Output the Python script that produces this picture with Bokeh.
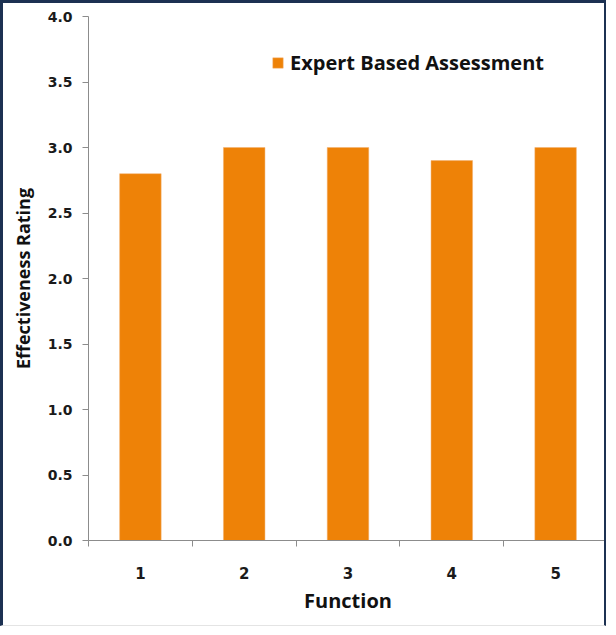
from bokeh.plotting import figure
from bokeh.models import FixedTicker, Legend, LegendItem, ColumnDataSource
from bokeh.embed import file_html
from bokeh.resources import INLINE

functions = [1, 2, 3, 4, 5]
ratings = [2.8, 3.0, 3.0, 2.9, 3.0]
y_ticks = [0.0, 0.5, 1.0, 1.5, 2.0, 2.5, 3.0, 3.5, 4.0]
series_name = "Expert Based Assessment"

src = ColumnDataSource(dict(x=functions, top=ratings))

p = figure(width=606, height=626, output_backend="svg", toolbar_location=None,
           x_range=(0.5, 5.5), y_range=(0, 4.0),
           min_border_left=85, min_border_right=2, min_border_top=13, min_border_bottom=89)
p.styles = {"border-left": "3px solid #1c3152", "border-top": "3px solid #1c3152",
            "border-right": "2px solid #1c3152", "border-bottom": "1px solid #e4e4e4"}
p.grid.visible = False
p.outline_line_color = None
p.background_fill_color = "white"

r = p.vbar(x="x", top="top", width=0.4, source=src, fill_color="#ee8207", line_color="#f2b070", line_width=0.5)

# y axis
ya = p.yaxis[0]
ya.ticker = FixedTicker(ticks=y_ticks)
ya.major_label_overrides = {t: f"{t:.1f}" for t in y_ticks}
ya.major_label_text_font = "DejaVu Sans"
ya.major_label_text_font_style = "bold"
ya.major_label_text_font_size = "14px"
ya.major_label_text_color = "#1a1a1a"
ya.major_tick_out = 6
ya.major_tick_in = 0
ya.minor_tick_out = 0
ya.minor_tick_in = 0
ya.axis_line_color = "#8c8c8c"
ya.major_tick_line_color = "#8c8c8c"
ya.major_label_standoff = 10
ya.axis_label = "Effectiveness Rating"
ya.axis_label_text_font = "Open Sans"
ya.axis_label_text_font_style = "bold"
ya.axis_label_text_font_size = "18px"
ya.axis_label_text_color = "#111111"
ya.axis_label_standoff = 10

# x axis
xa = p.xaxis[0]
xa.ticker = FixedTicker(ticks=functions, minor_ticks=[f + 0.5 for f in [0] + functions])
xa.major_tick_out = 0
xa.major_tick_in = 0
xa.minor_tick_out = 6
xa.minor_tick_in = 0
xa.axis_line_color = "#8c8c8c"
xa.minor_tick_line_color = "#8c8c8c"
xa.major_label_text_font = "DejaVu Sans"
xa.major_label_text_font_style = "bold"
xa.major_label_text_font_size = "15px"
xa.major_label_text_color = "#1a1a1a"
xa.major_label_standoff = 20
xa.axis_label = "Function"
xa.axis_label_text_font = "Open Sans"
xa.axis_label_text_font_style = "bold"
xa.axis_label_text_font_size = "20px"
xa.axis_label_text_color = "#111111"
xa.axis_label_standoff = 5

legend = Legend(items=[LegendItem(label=series_name, renderers=[r])],
                location=(183, 464), padding=0, margin=0, spacing=0,
                glyph_width=13, glyph_height=13, label_standoff=6,
                border_line_color=None, background_fill_alpha=0,
                label_text_font="Open Sans", label_text_font_style="bold",
                label_text_font_size="20px", label_text_color="#111111")
p.add_layout(legend, "center")

open("out.html", "w").write(file_html(p, INLINE))
